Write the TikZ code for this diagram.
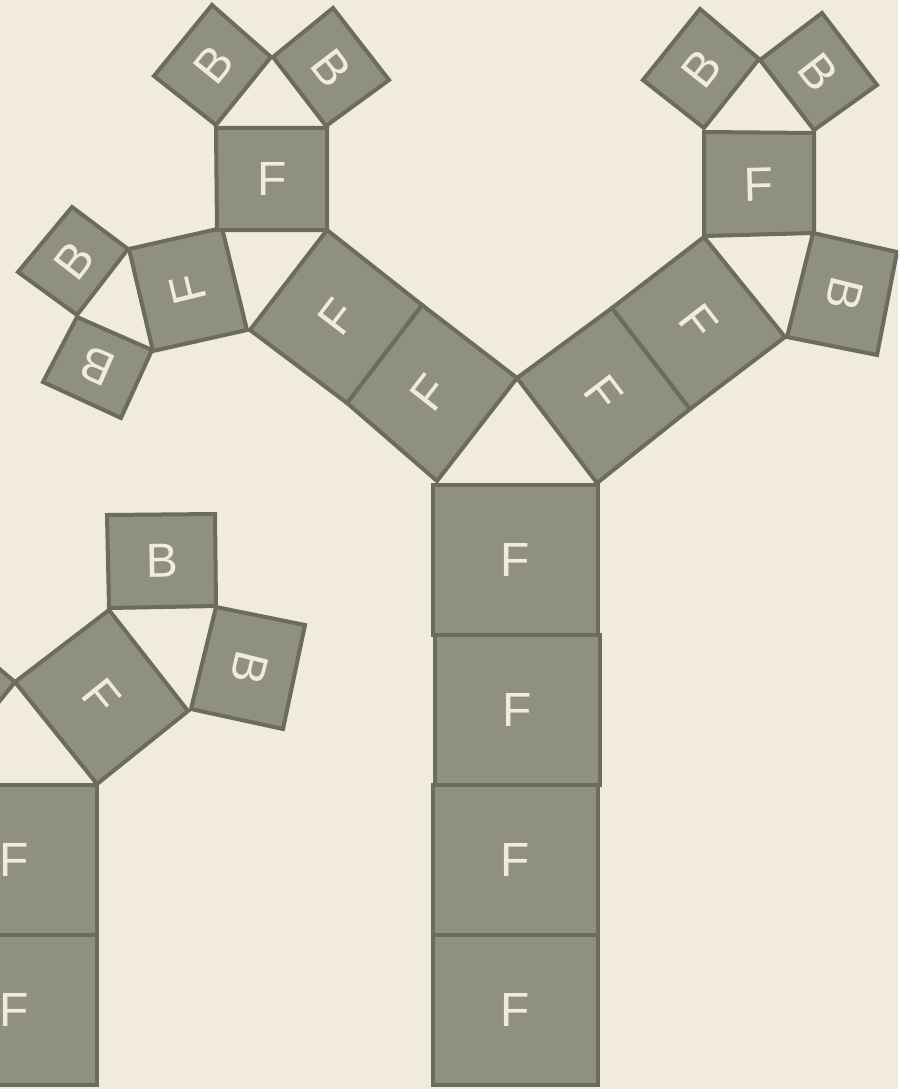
\documentclass[tikz,border=0pt]{standalone}
\usepackage{fontspec}
\setmainfont{Liberation Sans}
\usetikzlibrary{calc}
\definecolor{bg}{RGB}{240,235,218}
\definecolor{sqfill}{RGB}{143,144,128}
\definecolor{sqline}{RGB}{107,107,94}
\tikzset{
  sqbox/.style={fill=sqfill, draw=sqline, line width=4pt, line join=miter},
  sqlabel/.style={text=bg, inner sep=0pt, font=\fontsize{48}{48}\selectfont},
}
% name, label, a (base left), b (base right), c (top right), d (top left)
\newcommand\sqr[6]{%
  \draw[sqbox] #3 -- #4 -- #5 -- #6 -- cycle;
  \path let \p1=($#4-#3$), \n1={atan2(\y1,\x1)} in
    node[sqlabel, rotate=\n1] (#1) at ($#3!0.5!#5$) {#2};
}
\begin{document}
\begin{tikzpicture}[x=1pt,y=-1pt]
\useasboundingbox (0,0) rectangle (898,1089);
\fill[bg] (0,0) rectangle (898,1089);
\clip (0,0) rectangle (898,1089);
% ---------- main tree: trunk
\sqr{t4}{F}{(433,1085)}{(598,1085)}{(598,935)}{(433,935)}
\sqr{t3}{F}{(433,935)}{(598,935)}{(598,785)}{(433,785)}
\sqr{t2}{F}{(435,785)}{(600,785)}{(600,635)}{(435,635)}
\sqr{t1}{F}{(433,635)}{(598,635)}{(598,485)}{(433,485)}
% ---------- left branch
\sqr{l1}{F}{(437,481)}{(517,378)}{(422,305)}{(347,403)}
\sqr{l2}{F}{(347,403)}{(422,305)}{(327,230)}{(250,330)}
\sqr{lf}{F}{(247,330)}{(222,228)}{(129,249)}{(153,351)}
\sqr{lt}{F}{(217,230)}{(327,230)}{(327,128)}{(216,128)}
\sqr{lb1}{B}{(216,125)}{(271,57)}{(212,5)}{(154,76)}
\sqr{lb2}{B}{(273,57)}{(326,126)}{(389,80)}{(333,8)}
\sqr{lb3}{B}{(152,350)}{(77,317)}{(43,382)}{(121,418)}
\sqr{lb4}{B}{(77,315)}{(128,249)}{(72,207)}{(18,272)}
% ---------- right branch
\sqr{r1}{F}{(517,378)}{(597,483)}{(690,409)}{(612,308)}
\sqr{r2}{F}{(612,308)}{(690,409)}{(785,337)}{(704,237)}
\sqr{rt}{F}{(704,236)}{(814,233)}{(814,133)}{(704,132)}
\sqr{rb}{B}{(813,233)}{(787,337)}{(877,355)}{(897,252)}
\sqr{rb1}{B}{(704,128)}{(759,59)}{(700,9)}{(643,80)}
\sqr{rb2}{B}{(760,60)}{(814,130)}{(877,85)}{(822,13)}
% ---------- second tree, lower left
\sqr{s2}{F}{(-68,1085)}{(97,1085)}{(97,935)}{(-68,935)}
\sqr{s1}{F}{(-68,935)}{(97,935)}{(97,785)}{(-68,785)}
\draw[sqbox] (-68,785) -- (15,682) -- (-79,603) -- (-158,703) -- cycle;
\sqr{sf}{F}{(15,682)}{(97,784)}{(188,711)}{(109,610)}
\sqr{sb1}{B}{(109,608)}{(216,606)}{(215,514)}{(107,515)}
\sqr{sb2}{B}{(216,607)}{(191,709)}{(283,729)}{(305,625)}
\end{tikzpicture}
\end{document}
